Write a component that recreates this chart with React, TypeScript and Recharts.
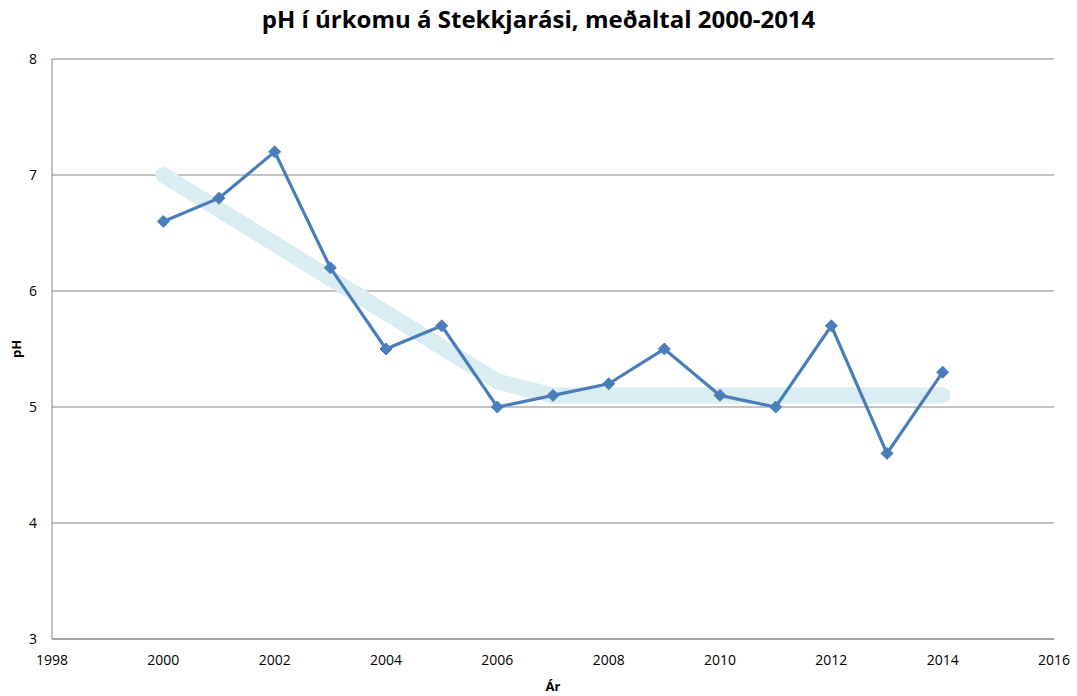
import { LineChart, Line, XAxis, YAxis, CartesianGrid, Label } from 'recharts';

const years = [2000, 2001, 2002, 2003, 2004, 2005, 2006, 2007, 2008, 2009, 2010, 2011, 2012, 2013, 2014];
const phValues = [6.6, 6.8, 7.2, 6.2, 5.5, 5.7, 5.0, 5.1, 5.2, 5.5, 5.1, 5.0, 5.7, 4.6, 5.3];

const trendYears = [2000, 2006, 2007, 2014];
const trendValues = [7.0, 5.22, 5.1, 5.1];

const xTicks = [1998, 2000, 2002, 2004, 2006, 2008, 2010, 2012, 2014, 2016];
const yTicks = [3, 4, 5, 6, 7, 8];

const data = years.map((y, i) => ({ year: y, ph: phValues[i] }));
const trend = trendYears.map((y, i) => ({ year: y, trend: trendValues[i] }));

const FONT = '"Open Sans", "Noto Sans", sans-serif';
const LINE_BLUE = '#4a7ebb';

const Diamond = (props: any) => {
  const { cx, cy } = props;
  if (cx == null || cy == null) return null;
  const r = 6;
  return (
    <polygon
      points={`${cx},${cy - r} ${cx + r},${cy} ${cx},${cy + r} ${cx - r},${cy}`}
      fill={LINE_BLUE}
      stroke={LINE_BLUE}
      strokeWidth={1}
    />
  );
};

export default function App() {
  const tick = { fill: '#000', fontSize: 14, fontFamily: FONT };
  return (
    <div style={{ position: 'absolute', left: 0, top: 0, width: 1077, height: 696, background: '#fff' }}>
      <div style={{
        position: 'absolute', left: 0, top: 2, width: 1077, textAlign: 'center',
        fontFamily: FONT, fontWeight: 700, fontSize: 24, color: '#000',
      }}>
        pH í úrkomu á Stekkjarási, meðaltal 2000-2014
      </div>
      <LineChart width={1077} height={696} margin={{ top: 59, right: 23, bottom: 27, left: 0 }}>
        <CartesianGrid horizontal vertical={false} stroke="#868686" strokeWidth={1} />
        <XAxis
          type="number"
          dataKey="year"
          domain={[1998, 2016]}
          ticks={xTicks}
          allowDuplicatedCategory={false}
          tickLine={false}
          tickSize={0}
          tickMargin={16}
          axisLine={{ stroke: '#868686' }}
          tick={tick}
          height={30}
        >
          <Label value="Ár" position="insideBottom" offset={-22} style={{ fontFamily: FONT, fontWeight: 700, fontSize: 13, fill: '#000' }} />
        </XAxis>
        <YAxis
          type="number"
          domain={[3, 8]}
          ticks={yTicks}
          tickLine={false}
          tickSize={0}
          tickMargin={15}
          axisLine={{ stroke: '#868686' }}
          tick={tick}
          width={52}
        >
          <Label value="pH" angle={-90} position="insideLeft" offset={16} style={{ fontFamily: FONT, fontWeight: 700, fontSize: 13, fill: '#000', textAnchor: 'middle' }} />
        </YAxis>
        <Line
          data={trend}
          dataKey="trend"
          type="linear"
          stroke="#daedf3"
          strokeWidth={16}
          strokeLinecap="round"
          strokeLinejoin="round"
          dot={false}
          activeDot={false}
          isAnimationActive={false}
        />
        <Line
          data={data}
          dataKey="ph"
          type="linear"
          stroke={LINE_BLUE}
          strokeWidth={3.2}
          dot={<Diamond />}
          activeDot={false}
          isAnimationActive={false}
        />
      </LineChart>
    </div>
  );
}
